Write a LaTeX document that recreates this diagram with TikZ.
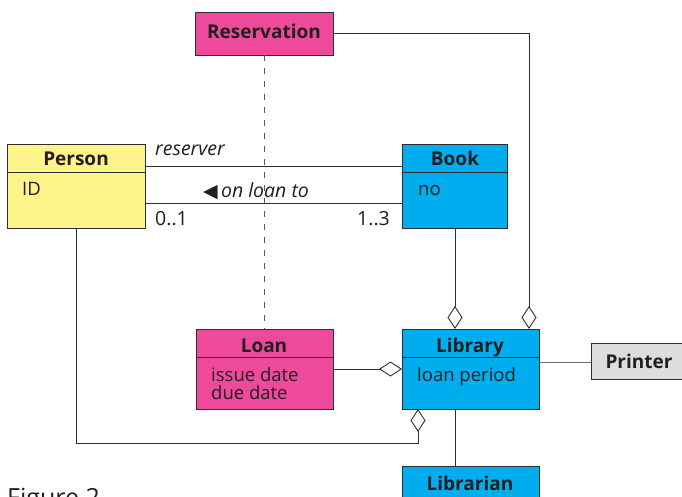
\documentclass[tikz,border=0pt]{standalone}
\usepackage{fontspec}
\setmainfont{Open Sans}
\newfontfamily\symfont{DejaVu Sans}
\usetikzlibrary{arrows.meta}
\definecolor{edge}{HTML}{2E2E2E}
\definecolor{pinkc}{HTML}{EE4A9B}
\definecolor{yelc}{HTML}{FFF48C}
\definecolor{cyanc}{HTML}{00AEEF}
\definecolor{greyc}{HTML}{DCDDDE}
\definecolor{txt}{HTML}{231F20}
\begin{document}
\begin{tikzpicture}[x=1pt,y=-1pt,
  box/.style={draw=edge, line width=0.9pt, anchor=north west, inner sep=0pt, outer sep=0pt},
  title/.style={font=\fontsize{19}{21}\selectfont\bfseries, text=txt, anchor=base, inner sep=0pt},
  attr/.style={font=\fontsize{18.5}{20}\selectfont, text=txt, anchor=base west, inner sep=0pt},
  lbl/.style={font=\fontsize{19.5}{21}\selectfont, text=txt, anchor=base west, inner sep=0pt},
  ilbl/.style={lbl, font=\fontsize{19.5}{21}\selectfont\itshape},
  conn/.style={draw=edge, line width=0.9pt},
  agg/.style={conn, -{Diamond[open, length=23pt, width=15pt, line width=0.9pt]}},
  dashline/.style={draw=edge!80, line width=0.9pt, dash pattern=on 6pt off 7pt}
]
\clip (0,0) rectangle (682,497);
\useasboundingbox (0,0) rectangle (682,497);

% boxes
\node[box, fill=pinkc, minimum width=138pt, minimum height=43pt] (res) at (195,12) {};
\node[title] (restitle) at (264,39) {Reservation};

\node[box, fill=yelc, minimum width=138pt, minimum height=84pt] (person) at (7,144) {};
\draw[conn] (7,172) -- (145,172);
\node[title] (persontitle) at (76,166) {Person};
\node[attr] (personattr) at (22,196) {ID};

\node[box, fill=cyanc, minimum width=105pt, minimum height=84pt] (book) at (402,144) {};
\draw[conn] (402,172) -- (507,172);
\node[title] (booktitle) at (455,166) {Book};
\node[attr] (bookattr) at (418,196) {no};

\node[box, fill=pinkc, minimum width=137pt, minimum height=80pt] (loan) at (196,329) {};
\draw[conn] (196,357) -- (333,357);
\node[title] (loantitle) at (264,352) {Loan};
\node[attr] (loanattr1) at (211,381) {issue date};
\node[attr] (loanattr2) at (211,399) {due date};

\node[box, fill=cyanc, minimum width=137pt, minimum height=80pt] (lib) at (402,329) {};
\draw[conn] (402,357) -- (539,357);
\node[title] (libtitle) at (470,352) {Library};
\node[attr] (libattr) at (417,381) {loan period};

\node[box, fill=greyc, minimum width=100pt, minimum height=36pt] (printer) at (591,343) {};
\node[title] (printertitle) at (639,368) {Printer};

\node[box, fill=cyanc, minimum width=137pt, minimum height=45pt] (librarian) at (402,466) {};
\node[title] (librariantitle) at (470,490) {Librarian};

% connectors
\coordinate (resturn) at (529,33);
\draw[agg] (res.east |- resturn) -- (resturn) -- (resturn |- lib.north);
\draw[dashline] (res.south -| 264,0) -- (264,329);
\draw[conn] (person.east |- 0,166) -- (book.west |- 0,166);
\draw[conn] (person.east |- 0,203) -- (book.west |- 0,203);
\draw[agg] (455,228) -- (455,329);
\coordinate (pturn1) at (76,443);
\coordinate (pturn2) at (418,443);
\draw[agg] (person.south -| pturn1) -- (pturn1) -- (pturn2) -- (pturn2 |- lib.south);
\draw[agg] (loan.east |- 0,369) -- (lib.west |- 0,369);
\draw[draw=edge!70, line width=0.9pt] (lib.east |- 0,362) -- (printer.west |- 0,362);
\draw[conn] (455,409) -- (librarian.north -| 455,0);

% labels
\node[ilbl] (reserver) at (155,156) {reserver};
\node[ilbl] (onloan) at (203,197) {{\symfont\fontsize{19}{20}\selectfont ◀}\,on loan to};
\node[lbl] (m01) at (155,225) {0..1};
\node[lbl] (m13) at (357,225) {1..3};

\node[anchor=base west, inner sep=0pt, font=\fontsize{25}{28}\selectfont, text=txt] (fig) at (7,506) {Figure 2};
\end{tikzpicture}
\end{document}
